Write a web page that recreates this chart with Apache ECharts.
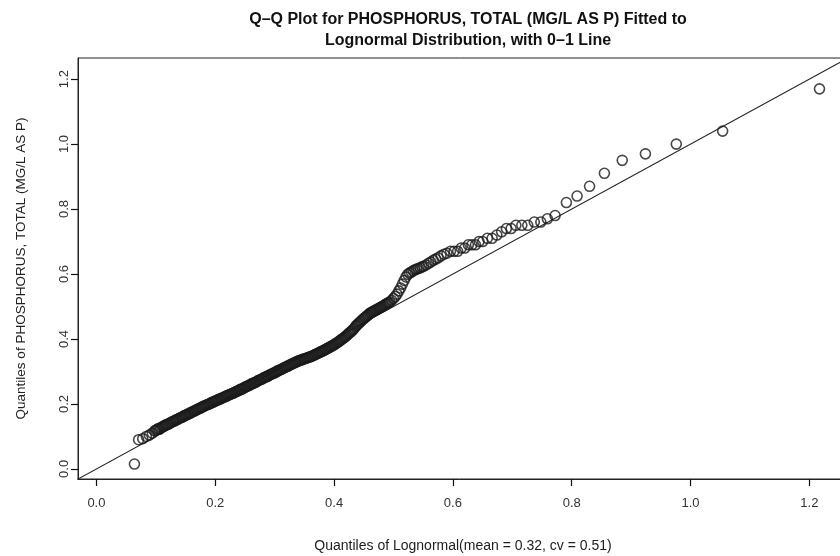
<!DOCTYPE html>
<html>
<head>
<meta charset="utf-8">
<script src="https://cdn.jsdelivr.net/npm/echarts@6/dist/echarts.min.js"></script>
<style>
html,body{margin:0;padding:0;background:#fff;}
#chart{width:840px;height:556px;}
</style>
</head>
<body>
<div id="chart"></div>
<script>
var xQuant = [
0.064,0.071,0.078,0.084,0.089,0.094,0.098,
0.100,0.102,0.104,0.106,0.108,0.110,0.112,0.114,0.116,0.118,0.120,0.122,0.124,
0.126,0.128,0.130,0.132,0.134,0.136,0.138,0.140,0.142,0.144,0.146,0.148,0.150,
0.152,0.154,0.156,0.158,0.160,0.162,0.164,0.166,0.168,0.170,0.172,0.174,0.176,0.178,0.180,
0.182,0.184,0.186,0.188,0.190,0.192,0.194,0.196,0.198,0.200,0.202,0.204,0.206,0.208,0.210,
0.212,0.214,0.216,0.218,0.220,0.222,0.224,0.226,0.228,0.230,0.232,0.234,0.236,
0.238,0.240,0.242,0.244,0.246,0.248,0.250,0.252,0.254,0.256,0.258,0.260,0.262,0.264,0.266,
0.268,0.270,0.272,0.274,0.276,0.278,0.280,0.282,0.284,0.286,0.288,0.290,0.292,0.294,0.296,
0.298,0.300,0.302,0.304,0.306,0.308,0.310,0.312,0.314,0.316,0.318,0.320,0.322,0.324,0.326,
0.328,0.330,0.332,0.334,0.336,
0.338,0.340,0.342,0.344,0.346,0.348,0.350,0.352,0.354,0.356,0.358,
0.360,0.362,0.364,0.366,0.368,0.370,0.372,0.374,0.376,0.378,0.380,0.382,
0.384,0.386,0.388,0.390,0.392,0.394,0.396,0.398,
0.400,0.402,0.404,0.406,0.408,0.410,0.412,0.414,0.416,
0.418,0.420,0.422,0.424,0.426,0.428,0.430,0.432,0.434,0.436,0.438,
0.440,0.442,0.444,0.446,0.448,0.450,0.452,0.454,0.456,0.458,0.460,
0.462,0.464,0.466,0.468,0.470,0.472,0.474,0.476,
0.478,0.480,0.482,0.484,0.486,0.488,0.490,0.492,0.494,
0.497,0.500,0.503,0.506,0.509,0.512,0.515,0.518,0.521,0.524,0.527,0.530,0.533,0.536,
0.539,0.542,0.545,0.548,0.551,0.555,0.559,0.563,0.567,0.571,0.575,0.580,0.585,0.590,
0.596,0.602,0.608,0.614,0.620,0.626,0.632,0.638,0.644,0.650,0.658,0.666,0.674,0.682,0.690,0.698,
0.706,0.716,0.726,0.737,0.748,0.759,0.772,0.791,0.809,0.830,0.855,0.885,0.924,0.976,1.054,1.217
];
var yObs = [
0.015,0.090,0.093,0.100,0.104,0.110,0.117,
0.119,0.121,0.124,0.122,0.126,0.128,0.131,0.132,0.134,0.137,0.137,0.139,0.142,
0.143,0.146,0.147,0.148,0.151,0.152,0.154,0.156,0.158,0.159,0.161,0.164,0.165,
0.167,0.168,0.171,0.172,0.174,0.176,0.178,0.179,0.182,0.183,0.185,0.187,0.188,0.191,0.192,
0.194,0.196,0.197,0.199,0.200,0.202,0.205,0.205,0.207,0.209,0.211,0.212,0.214,0.215,0.217,
0.219,0.220,0.222,0.224,0.225,0.227,0.229,0.230,0.232,0.233,0.235,0.237,0.239,
0.240,0.242,0.245,0.245,0.247,0.249,0.252,0.253,0.255,0.256,0.258,0.261,0.262,0.264,0.265,
0.267,0.269,0.272,0.273,0.275,0.276,0.278,0.281,0.282,0.284,0.285,0.287,0.290,0.291,0.293,
0.295,0.296,0.298,0.301,0.302,0.304,0.306,0.307,0.310,0.311,0.313,0.315,0.316,0.319,0.320,
0.322,0.324,0.326,0.327,0.329,
0.331,0.332,0.334,0.335,0.336,0.338,0.339,0.340,0.341,0.343,0.344,
0.345,0.347,0.348,0.350,0.352,0.354,0.355,0.357,0.359,0.361,0.362,0.364,
0.366,0.368,0.370,0.372,0.374,0.376,0.378,0.380,
0.382,0.385,0.387,0.390,0.392,0.395,0.398,0.400,0.403,
0.406,0.409,0.412,0.416,0.419,0.422,0.425,0.429,0.433,0.438,0.442,
0.446,0.449,0.453,0.456,0.460,0.463,0.466,0.469,0.472,0.475,0.479,
0.481,0.483,0.485,0.487,0.489,0.491,0.493,0.495,
0.497,0.499,0.501,0.503,0.506,0.508,0.510,0.512,0.514,
0.519,0.525,0.531,0.538,0.548,0.557,0.569,0.580,0.591,0.599,0.603,0.606,0.610,0.613,
0.615,0.617,0.619,0.622,0.624,0.628,0.633,0.637,0.642,0.646,0.650,0.656,0.661,0.664,
0.67,0.67,0.67,0.68,0.68,0.69,0.69,0.69,0.70,0.70,0.71,0.71,0.72,0.73,0.74,0.74,
0.75,0.75,0.75,0.76,0.76,0.77,0.78,0.82,0.84,0.87,0.91,0.95,0.97,1.00,1.04,1.17
];
var tickValues = [0.0,0.2,0.4,0.6,0.8,1.0,1.2];
var axisMin = -0.031, axisMax = 1.265;
var refLine = [[-0.1,-0.1],[1.4,1.4]];  // 0-1 line (y = x)

var titleText = 'Q\u2013Q Plot for PHOSPHORUS, TOTAL (MG/L AS P) Fitted to\nLognormal Distribution, with 0\u20131 Line';
var xName = 'Quantiles of Lognormal(mean = 0.32, cv = 0.51)';
var yName = 'Quantiles of PHOSPHORUS, TOTAL (MG/L AS P)';

var pts = xQuant.map(function(x,i){return [x,yObs[i]];});
var FONT = '"Liberation Sans", Arial, sans-serif';

var chart = echarts.init(document.getElementById('chart'), null, {renderer:'canvas'});
function axisCommon(){
  return {
    type:'value', min:axisMin, max:axisMax,
    axisLine:{show:true, onZero:false, lineStyle:{color:'#222', width:1}},
    axisTick:{show:true, inside:false, length:7, customValues:tickValues, lineStyle:{color:'#111', width:1.2}},
    axisLabel:{show:true, customValues:tickValues, color:'#333', fontFamily:FONT, fontSize:13,
      formatter:function(v){return v.toFixed(1);}},
    splitLine:{show:false},
    nameLocation:'middle',
    nameTextStyle:{color:'#222', fontFamily:FONT, fontSize:14}
  };
}
var xa = axisCommon();
xa.axisLabel.margin = 18;
xa.name = xName; xa.nameGap = 60;
var ya = axisCommon();
ya.axisLabel.rotate = 90; ya.axisLabel.margin = 7;
ya.name = yName; ya.nameGap = 50; ya.nameRotate = 90;
ya.nameTextStyle.fontSize = 13.5;

chart.setOption({
  animation:false,
  backgroundColor:'#fff',
  title:{text:titleText, left:463, top:4, textAlign:'center',
    textStyle:{fontFamily:FONT, fontSize:16, fontWeight:'bold', color:'#111', lineHeight:21}},
  grid:{left:78, top:58, right:-8, bottom:77, show:true, borderColor:'#222', borderWidth:1,
    containLabel:false, outerBoundsMode:'none'},
  xAxis:xa,
  yAxis:ya,
  series:[
    {type:'line', data:refLine, symbol:'none', clip:true, silent:true,
     lineStyle:{color:'#222', width:1.1}, z:3},
    {type:'scatter', data:pts, symbol:'circle', symbolSize:10, clip:false, silent:true,
     itemStyle:{color:'rgba(0,0,0,0)', borderColor:'#1a1a1a', borderWidth:1.6}, z:4}
  ]
});
</script>
</body>
</html>
